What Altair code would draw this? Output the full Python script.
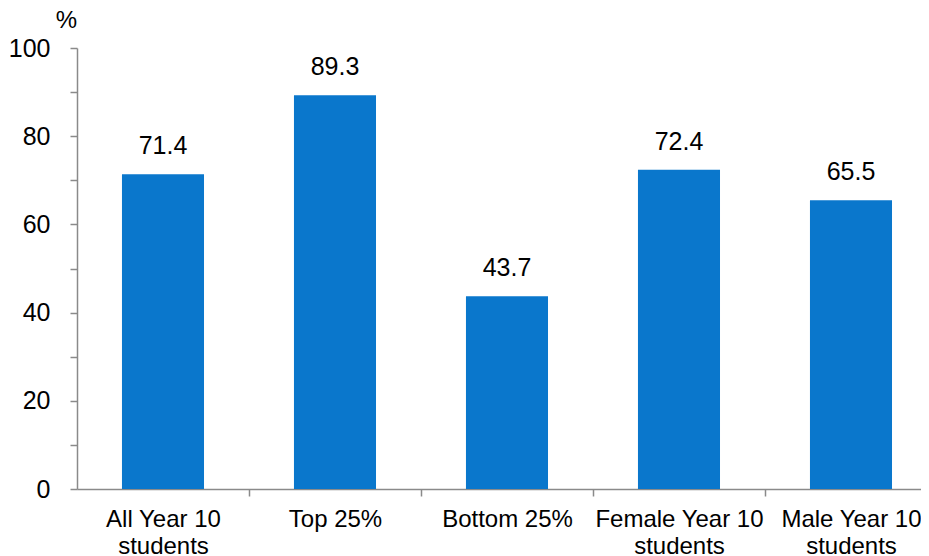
import altair as alt
import pandas as pd

categories = ["All Year 10\nstudents", "Top 25%", "Bottom 25%",
              "Female Year 10\nstudents", "Male Year 10\nstudents"]
values = [71.4, 89.3, 43.7, 72.4, 65.5]
y_ticks = [0, 10, 20, 30, 40, 50, 60, 70, 80, 90, 100]

df = pd.DataFrame({"group": categories, "pct": values})

FONT = "Liberation Sans"
AXIS_GREY = "#8a8a8a"
BAR_BLUE = "#0a77cc"

x = alt.X(
    "group:N",
    sort=categories,
    scale=alt.Scale(paddingInner=0.523, paddingOuter=0.215, align=0.608, round=False),
    axis=alt.Axis(
        title=None,
        labelAngle=0,
        labelExpr="split(datum.label, '\\n')",
        labelFont=FONT,
        labelFontSize=24,
        labelColor="#000000",
        labelLineHeight=27,
        labelPadding=11,
        labelBaseline="top",
        bandPosition=1,
        tickOffset=45,
        labelOffset=-45,
        tickSize=7,
        tickColor=AXIS_GREY,
        tickWidth=1.5,
        domainColor=AXIS_GREY,
        domainWidth=1.5,
        grid=False,
    ),
)

y = alt.Y(
    "pct:Q",
    scale=alt.Scale(domain=[0, 100], nice=False),
    axis=alt.Axis(
        title="%",
        titleAngle=0,
        titleFont=FONT,
        titleFontSize=24,
        titleFontWeight="normal",
        titleColor="#000000",
        titleAlign="center",
        titleBaseline="alphabetic",
        titleX=-11,
        titleY=-21,
        values=y_ticks,
        labelExpr="datum.value % 20 === 0 ? datum.label : ''",
        labelFont=FONT,
        labelFontSize=25,
        labelColor="#000000",
        labelPadding=20,
        tickSize=7,
        tickColor=AXIS_GREY,
        tickWidth=1.5,
        domainColor=AXIS_GREY,
        domainWidth=1.5,
        grid=False,
    ),
)

base = alt.Chart(df).encode(x=x, y=y)

bars = base.mark_bar(color=BAR_BLUE)

labels = base.mark_text(
    dy=-20, baseline="alphabetic", align="center",
    font=FONT, fontSize=25, color="#000000"
).encode(text=alt.Text("pct:Q", format=".1f"))

chart = (
    alt.layer(bars, labels)
    .properties(
        width=844,
        height=441,
        background="#ffffff",
        autosize=alt.AutoSizeParams(type="none"),
        padding={"left": 69, "top": 40, "right": 0, "bottom": 67},
    )
    .configure_view(strokeWidth=0)
    .configure_axis(grid=False)
)

chart.save("out.html", embed_options={"renderer": "svg", "actions": False})
